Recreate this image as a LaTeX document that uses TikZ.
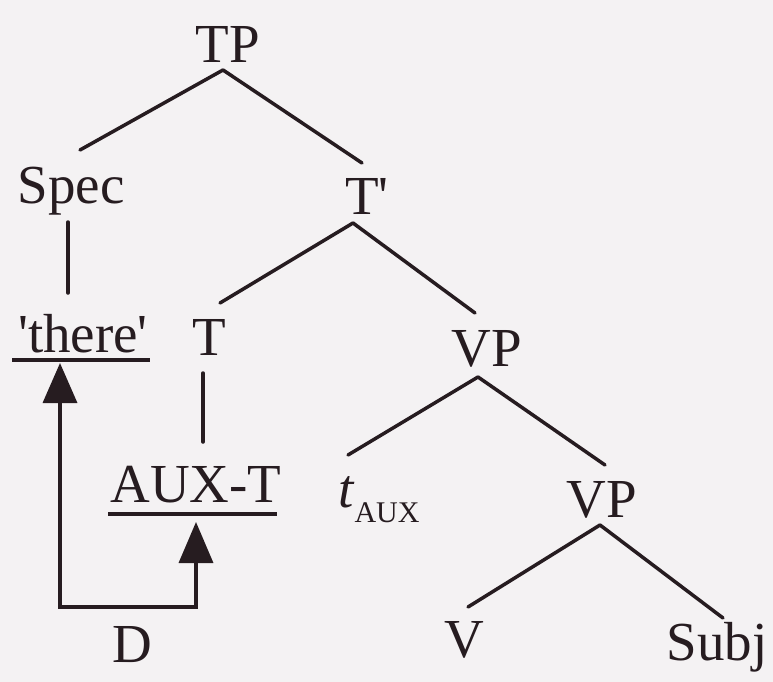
\documentclass[tikz,border=0pt]{standalone}
\usepackage{fontspec}
\setmainfont{Liberation Serif}
\usetikzlibrary{calc,arrows.meta}
\definecolor{ink}{RGB}{38,28,32}
\definecolor{paper}{RGB}{244,242,243}
\begin{document}
\begin{tikzpicture}[x=1pt,y=-1pt,
  lab/.style={anchor=base,inner sep=0pt,text=ink,font=\fontsize{55}{60}\selectfont},
  branch/.style={draw=ink,line width=3.5pt,line cap=round},
  uline/.style={draw=ink,line width=3.5pt},
  move/.style={draw=ink,line width=3.5pt,
    {Triangle[length=40pt,width=34pt]}-{Triangle[length=41pt,width=34pt]}}]

% page
\fill[paper] (0,0) rectangle (773,682);
\useasboundingbox (0,0) rectangle (773,682);

% tree labels (placed by baseline)
\node[lab] (TP)    at (228,63)  {TP};
\node[lab] (Spec)  at (71,203)  {Spec};
\node[lab] (Tbar)  at (367,214) {T\textquotesingle};
\node[lab] (there) at (83,352)  {\textquotesingle there\textquotesingle};
\node[lab] (T)     at (209,355) {T};
\node[lab] (VPa)   at (487,366) {VP};
\node[lab] (AUXT)  at (196,502) {AUX-T};
\node[lab,anchor=base west] (tAUX) at (338,507)
  {\textit{t}\raisebox{-15pt}{\fontsize{30}{34}\selectfont AUX}};
\node[lab] (VPb)   at (602,517) {VP};
\node[lab] (D)     at (132,662) {D};
\node[lab] (V)     at (464,657) {V};
\node[lab] (Subj)  at (717,660) {Subj};

% branches
\draw[branch] ($(TP.base)+(-5,7)$)    -- ($(Spec.base)+(9,-53)$);
\draw[branch] ($(TP.base)+(-5,7)$)    -- ($(Tbar.base)+(-5,-51)$);
\draw[branch] ($(Spec.base)+(-3,19)$) -- ($(there.base)+(-15,-59)$);
\draw[branch] ($(Tbar.base)+(-14,9)$) -- ($(T.base)+(11,-52)$);
\draw[branch] ($(Tbar.base)+(-14,9)$) -- ($(VPa.base)+(-12,-53)$);
\draw[branch] ($(T.base)+(-6,18)$)    -- ($(AUXT.base)+(7,-60)$);
\draw[branch] ($(VPa.base)+(-9,11)$)  -- ($(tAUX.base west)+(10,-52)$);
\draw[branch] ($(VPa.base)+(-9,11)$)  -- ($(VPb.base)+(3,-52)$);
\draw[branch] ($(VPb.base)+(-2,8)$)   -- ($(V.base)+(4,-50)$);
\draw[branch] ($(VPb.base)+(-2,8)$)   -- ($(Subj.base)+(6,-42)$);

% underlines of the moved items
\draw[uline] ($(there.base)+(-71,8)$) -- ($(there.base)+(67,8)$);
\draw[uline] ($(AUXT.base)+(-88,12)$) -- ($(AUXT.base)+(81,12)$);

% movement arrow D
\coordinate (bend) at (128,607);
\draw[move] ($(there.base)+(-23,11)$) |- (bend) -| ($(AUXT.base)+(0,20)$);
\end{tikzpicture}
\end{document}
